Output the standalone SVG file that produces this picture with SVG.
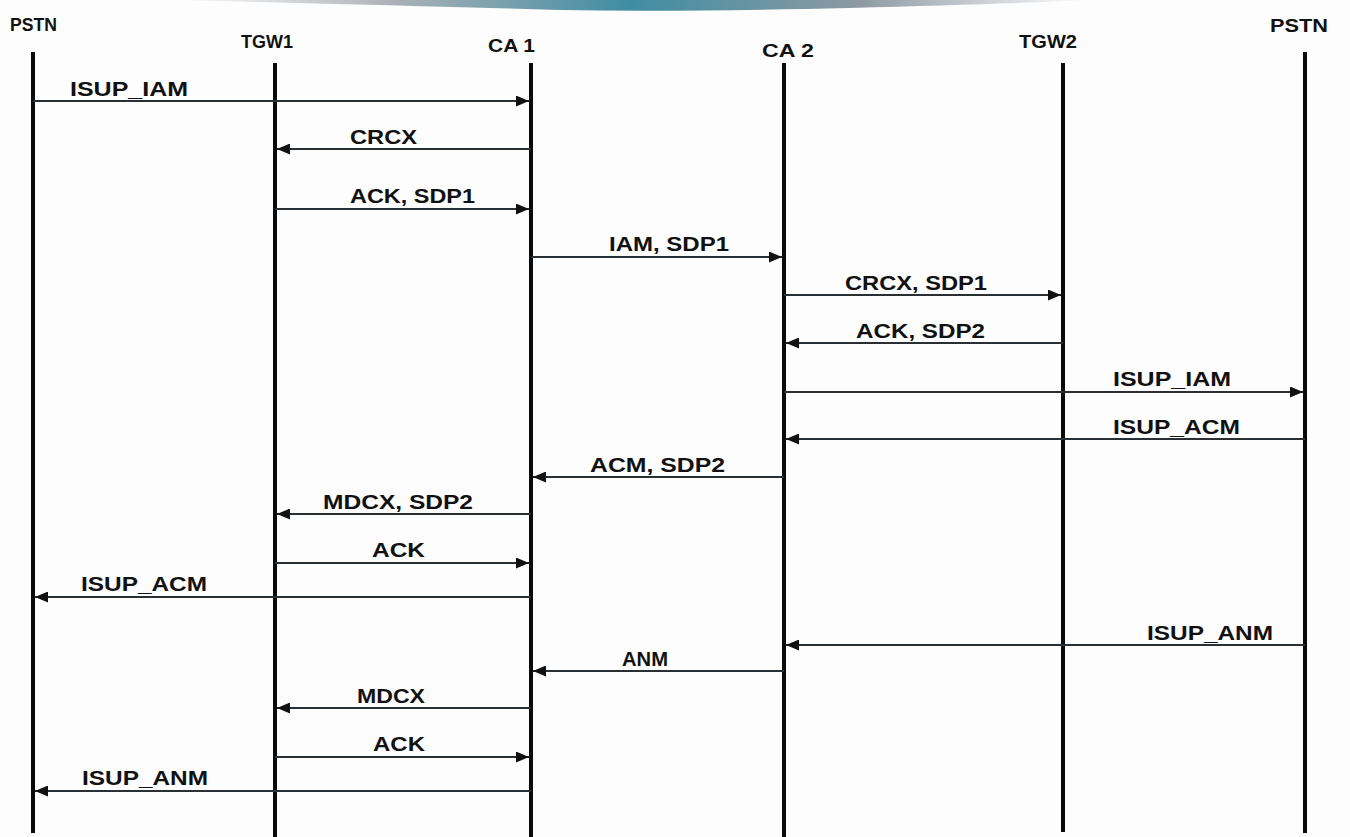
<svg xmlns="http://www.w3.org/2000/svg" width="1350" height="837" viewBox="0 0 1350 837">
<defs>
<style>
.life{stroke:#0a0a0a;stroke-width:4;fill:none}
.msg{stroke:#2a2f33;stroke-width:2;fill:none;marker-end:url(#ah)}
.hd{font-family:"Liberation Sans",Arial,sans-serif;font-weight:bold;font-size:18px;fill:#111}
.lb{font-family:"Liberation Sans",Arial,sans-serif;font-weight:bold;font-size:21px;fill:#111}
</style>
<marker id="ah" viewBox="0 0 13 11" refX="13" refY="5.5" markerWidth="13" markerHeight="11" orient="auto" markerUnits="userSpaceOnUse">
<path d="M0,0 L13,5.5 L0,11 Z" fill="#111"/>
</marker>
<linearGradient id="band" x1="0" y1="0" x2="1" y2="0">
<stop offset="0" stop-color="#ffffff"/>
<stop offset="0.25" stop-color="#a9b0b5"/>
<stop offset="0.5" stop-color="#3f8da3"/>
<stop offset="0.75" stop-color="#8e9aa2"/>
<stop offset="1" stop-color="#ffffff"/>
</linearGradient>
</defs>
<rect width="1350" height="837" fill="#fdfdfd"/>
<path d="M170,0 L1090,0 Q1010,4 850,8 Q680,12 560,10 Q400,5 170,0 Z" fill="url(#band)"/>

<g id="n-pstn1"><text class="hd" x="10" y="31" textLength="47" lengthAdjust="spacingAndGlyphs">PSTN</text><line class="life" x1="33" y1="52" x2="33" y2="833"/></g>
<g id="n-tgw1"><text class="hd" x="241" y="48" textLength="52" lengthAdjust="spacingAndGlyphs">TGW1</text><line class="life" x1="275" y1="63" x2="275" y2="837"/></g>
<g id="n-ca1"><text class="hd" x="488" y="52" textLength="47" lengthAdjust="spacingAndGlyphs">CA 1</text><line class="life" x1="531" y1="63" x2="531" y2="837"/></g>
<g id="n-ca2"><text class="hd" x="762" y="57" textLength="52" lengthAdjust="spacingAndGlyphs">CA 2</text><line class="life" x1="784" y1="63" x2="784" y2="837"/></g>
<g id="n-tgw2"><text class="hd" x="1019" y="48" textLength="58" lengthAdjust="spacingAndGlyphs">TGW2</text><line class="life" x1="1063" y1="63" x2="1063" y2="832"/></g>
<g id="n-pstn2"><text class="hd" x="1270" y="32" textLength="58" lengthAdjust="spacingAndGlyphs">PSTN</text><line class="life" x1="1305" y1="52" x2="1305" y2="833"/></g>

<g id="connectors">
<line class="msg" x1="33" y1="101" x2="529" y2="101"/>
<line class="msg" x1="531" y1="149" x2="277" y2="149"/>
<line class="msg" x1="275" y1="209" x2="529" y2="209"/>
<line class="msg" x1="531" y1="257" x2="782" y2="257"/>
<line class="msg" x1="784" y1="295" x2="1061" y2="295"/>
<line class="msg" x1="1063" y1="343" x2="786" y2="343"/>
<line class="msg" x1="784" y1="392" x2="1303" y2="392"/>
<line class="msg" x1="1305" y1="439" x2="786" y2="439"/>
<line class="msg" x1="784" y1="477" x2="533" y2="477"/>
<line class="msg" x1="531" y1="514" x2="277" y2="514"/>
<line class="msg" x1="275" y1="563" x2="529" y2="563"/>
<line class="msg" x1="531" y1="597" x2="35" y2="597"/>
<line class="msg" x1="1305" y1="645" x2="786" y2="645"/>
<line class="msg" x1="784" y1="671" x2="533" y2="671"/>
<line class="msg" x1="531" y1="708" x2="277" y2="708"/>
<line class="msg" x1="275" y1="757" x2="529" y2="757"/>
<line class="msg" x1="531" y1="791" x2="35" y2="791"/>
</g>

<g id="labels">
<text class="lb" x="70" y="96" textLength="118" lengthAdjust="spacingAndGlyphs">ISUP_IAM</text>
<text class="lb" x="350" y="144" textLength="67" lengthAdjust="spacingAndGlyphs">CRCX</text>
<text class="lb" x="350" y="203" textLength="125" lengthAdjust="spacingAndGlyphs">ACK, SDP1</text>
<text class="lb" x="609" y="251" textLength="120" lengthAdjust="spacingAndGlyphs">IAM, SDP1</text>
<text class="lb" x="845" y="290" textLength="142" lengthAdjust="spacingAndGlyphs">CRCX, SDP1</text>
<text class="lb" x="856" y="338" textLength="129" lengthAdjust="spacingAndGlyphs">ACK, SDP2</text>
<text class="lb" x="1113" y="386" textLength="118" lengthAdjust="spacingAndGlyphs">ISUP_IAM</text>
<text class="lb" x="1113" y="434" textLength="127" lengthAdjust="spacingAndGlyphs">ISUP_ACM</text>
<text class="lb" x="590" y="472" textLength="135" lengthAdjust="spacingAndGlyphs">ACM, SDP2</text>
<text class="lb" x="323" y="509" textLength="150" lengthAdjust="spacingAndGlyphs">MDCX, SDP2</text>
<text class="lb" x="372" y="557" textLength="53" lengthAdjust="spacingAndGlyphs">ACK</text>
<text class="lb" x="81" y="591" textLength="126" lengthAdjust="spacingAndGlyphs">ISUP_ACM</text>
<text class="lb" x="1147" y="640" textLength="126" lengthAdjust="spacingAndGlyphs">ISUP_ANM</text>
<text class="lb" x="622" y="666" textLength="46" lengthAdjust="spacingAndGlyphs">ANM</text>
<text class="lb" x="357" y="703" textLength="68" lengthAdjust="spacingAndGlyphs">MDCX</text>
<text class="lb" x="373" y="751" textLength="52" lengthAdjust="spacingAndGlyphs">ACK</text>
<text class="lb" x="82" y="785" textLength="126" lengthAdjust="spacingAndGlyphs">ISUP_ANM</text>
</g>
</svg>
